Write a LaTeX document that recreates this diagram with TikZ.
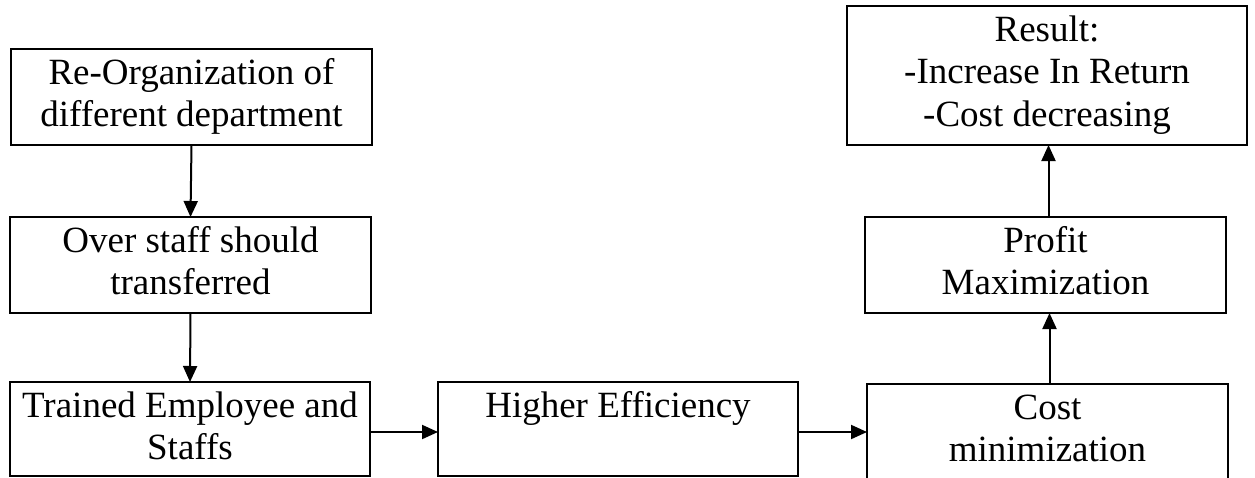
\documentclass[tikz,border=0pt]{standalone}
\usepackage{fontspec}
\setmainfont{Liberation Serif}
\usetikzlibrary{arrows.meta}

% text set from the top of its box, first baseline a fixed distance down
\newcommand{\flowtext}[3]{%
  \parbox[c][#2pt][t]{#1pt}{\centering\fontsize{37}{42.5}\selectfont
    \rule{0pt}{35pt}#3\par}}

\tikzset{
  flowbox/.style={draw, line width=2pt, inner sep=0pt, outer sep=0pt,
    rectangle, anchor=north west},
  flowarrow/.style={line width=2pt,
    -{Triangle[length=16pt,width=14pt]}}
}

\begin{document}
\begin{tikzpicture}[x=1pt,y=-1pt]
  \useasboundingbox (0,0) rectangle (1255,477);

  \node[flowbox] (reorg) at (11,49)
    {\flowtext{361}{96}{Re-Organization of\\different department}};
  \node[flowbox] (over) at (10,217)
    {\flowtext{361}{96}{Over staff should\\transferred}};
  \node[flowbox] (trained) at (10,382)
    {\flowtext{360}{94}{Trained Employee and\\Staffs}};
  \node[flowbox] (higher) at (438,382)
    {\flowtext{360}{94}{Higher Efficiency}};
  \node[flowbox] (cost) at (867,384)
    {\flowtext{361}{112}{Cost\\minimization}};
  \node[flowbox] (profit) at (865,217)
    {\flowtext{361}{96}{Profit\\Maximization}};
  \node[flowbox] (result) at (847,6)
    {\flowtext{400}{139}{Result:\\-Increase In Return\\-Cost decreasing}};

  \draw[flowarrow] (reorg.south) -- (over.north);
  \draw[flowarrow] (over.south) -- (trained.north);
  \draw[flowarrow] ([yshift=-3pt]trained.east) -- ([yshift=-3pt]higher.west);
  \draw[flowarrow] ([yshift=-3pt]higher.east) -- ([yshift=-3pt]higher.east -| cost.west);
  \draw[flowarrow] ([xshift=2pt]cost.north) -- ([xshift=2pt]cost.north |- profit.south);
  \draw[flowarrow] ([xshift=3pt]profit.north) -- ([xshift=3pt]profit.north |- result.south);
\end{tikzpicture}
\end{document}
